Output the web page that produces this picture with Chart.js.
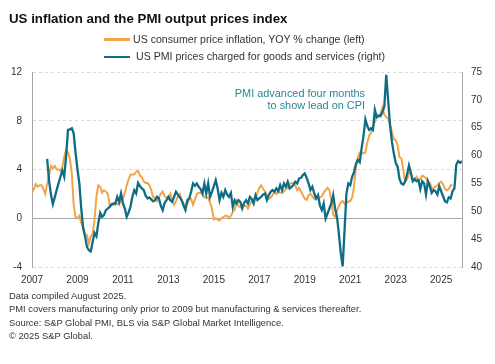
<!DOCTYPE html>
<html>
<head>
<meta charset="utf-8">
<script src="https://cdn.jsdelivr.net/npm/chart.js@4/dist/chart.umd.min.js"></script>
<style>
  html, body { margin:0; padding:0; background:#fff; }
  body { width:495px; height:364px; position:relative; overflow:hidden; font-family:"Liberation Sans", Arial, sans-serif; color:#262626; }
  #wrap { position:absolute; left:0; top:0; width:495px; height:364px; }
  .t { position:absolute; white-space:nowrap; }
  #title { left:9px; top:10.5px; font-size:13.3px; font-weight:bold; line-height:16px; color:#111; }
  .leg { font-size:10.6px; line-height:13px; color:#333; }
  .sw { position:absolute; width:26px; height:2.5px; }
  .foot { left:9px; font-size:9.4px; line-height:12px; color:#333; }
  .ann { font-size:10.9px; line-height:12px; color:#2a8597; text-align:right; }
</style>
</head>
<body>
<div id="wrap"><canvas id="c" width="495" height="364"></canvas></div>
<div class="t" id="title">US inflation and the PMI output prices index</div>
<div class="sw" style="left:104px; top:38px; background:#f2a448;"></div>
<div class="t leg" style="left:133px; top:32.5px;">US consumer price inflation, YOY % change (left)</div>
<div class="sw" style="left:104px; top:55.5px; background:#0e6d84;"></div>
<div class="t leg" style="left:136px; top:50px;">US PMI prices charged for goods and services (right)</div>
<div class="t ann" style="right:130px; top:86.5px;">PMI advanced four months<br>to show lead on CPI</div>
<div class="t foot" style="top:290px;">Data compiled August 2025.</div>
<div class="t foot" style="top:303.3px;">PMI covers manufacturing only prior to 2009 but manufacturing &amp; services thereafter.</div>
<div class="t foot" style="top:316.5px;">Source: S&amp;P Global PMI, BLS via S&amp;P Global Market Intelligence.</div>
<div class="t foot" style="top:329.5px;">© 2025 S&amp;P Global.</div>
<script>
// ---- data ----
const cpiStart = [2007, 1];   // first month of CPI series (year, month)
const pmiStart = [2007, 9];   // first month of PMI series, already advanced four months
const xTicks = [2007, 2009, 2011, 2013, 2015, 2017, 2019, 2021, 2023, 2025];
const leftTicks = [-4, 0, 4, 8, 12];
const rightTicks = [40, 45, 50, 55, 60, 65, 70, 75];

// US consumer price inflation, YOY % (left axis), Jan 2007 - Jul 2025
const cpiYoY = [
  2.1, 2.4, 2.8, 2.6, 2.7, 2.7, 2.4, 2.0, 2.8, 3.5, 4.3, 4.1,
  4.3, 4.0, 4.0, 3.9, 4.2, 5.0, 5.6, 5.4, 4.9, 3.7, 1.1, 0.1,
  0.0, 0.2, -0.4, -0.7, -1.3, -1.4, -2.1, -1.5, -1.3, -0.2, 1.8, 2.7,
  2.6, 2.1, 2.3, 2.2, 2.0, 1.1, 1.2, 1.1, 1.1, 1.2, 1.1, 1.5,
  1.6, 2.1, 2.7, 3.2, 3.6, 3.6, 3.6, 3.8, 3.9, 3.5, 3.4, 3.0,
  2.9, 2.9, 2.7, 2.3, 1.7, 1.7, 1.4, 1.7, 2.0, 2.2, 1.8, 1.7,
  1.6, 2.0, 1.5, 1.1, 1.4, 1.8, 2.0, 1.5, 1.2, 1.0, 1.2, 1.5,
  1.6, 1.1, 1.5, 2.0, 2.1, 2.1, 2.0, 1.7, 1.7, 1.7, 1.3, 0.8,
  -0.1, 0.0, -0.1, -0.2, 0.0, 0.1, 0.2, 0.2, 0.0, 0.2, 0.5, 0.7,
  1.4, 1.0, 0.9, 1.1, 1.0, 1.0, 0.8, 1.1, 1.5, 1.6, 1.7, 2.1,
  2.5, 2.7, 2.4, 2.2, 1.9, 1.6, 1.7, 1.9, 2.2, 2.0, 2.2, 2.1,
  2.1, 2.2, 2.4, 2.5, 2.8, 2.9, 2.9, 2.7, 2.3, 2.5, 2.2, 1.9,
  1.6, 1.5, 1.9, 2.0, 1.8, 1.6, 1.8, 1.7, 1.7, 1.8, 2.1, 2.3,
  2.5, 2.3, 1.5, 0.3, 0.1, 0.6, 1.0, 1.3, 1.4, 1.2, 1.2, 1.4,
  1.4, 1.7, 2.6, 4.2, 5.0, 5.4, 5.4, 5.3, 5.4, 6.2, 6.8, 7.0,
  7.5, 7.9, 8.5, 8.3, 8.6, 9.1, 8.5, 8.3, 8.2, 7.7, 7.1, 6.5,
  6.4, 6.0, 5.0, 4.9, 4.0, 3.0, 3.2, 3.7, 3.7, 3.2, 3.1, 3.4,
  3.1, 3.2, 3.5, 3.4, 3.3, 3.0, 2.9, 2.5, 2.4, 2.6, 2.7, 2.9,
  3.0, 2.8, 2.4, 2.3, 2.4, 2.7, 2.7
];

// US PMI prices charged index (right axis), advanced four months: Sep 2007 - Dec 2025
const pmiPrices = [
  59.4, 55.5, 53.0, 51.3,
  52.5, 53.8, 55.0, 56.2, 57.3, 56.2, 59.8, 64.6, 64.7, 64.9, 64.0, 60.5,
  57.5, 55.0, 50.5, 47.0, 45.5, 43.6, 43.0, 42.8, 44.5, 46.1, 45.5, 47.9,
  49.7, 49.0, 49.3, 50.2, 50.5, 50.8, 51.2, 51.4, 51.4, 52.6, 51.7, 53.2,
  51.4, 50.5, 49.0, 49.8, 50.8, 52.6, 53.8, 53.2, 55.1, 54.5, 54.1, 53.8,
  52.8, 52.3, 52.5, 52.1, 51.8, 52.0, 52.6, 52.3, 51.0, 50.2, 51.5, 52.0,
  52.6, 52.0, 51.7, 52.6, 53.5, 53.0, 52.5, 52.0, 51.0, 50.2, 52.0, 52.3,
  53.5, 55.0, 54.6, 55.0, 54.4, 54.0, 53.2, 55.0, 53.2, 55.0, 52.6, 53.5,
  54.5, 55.6, 54.1, 52.0, 53.3, 52.6, 53.8, 53.0, 52.6, 53.3, 50.8, 52.0,
  51.4, 52.0, 51.7, 50.5, 51.5, 52.0, 51.4, 52.6, 52.2, 51.4, 52.9, 52.0,
  52.3, 52.6, 53.0, 53.2, 52.0, 52.9, 53.5, 53.8, 53.5, 54.1, 53.6, 54.7,
  53.8, 55.0, 54.4, 55.3, 54.1, 54.4, 54.7, 55.3, 55.0, 55.9, 56.0, 56.5,
  56.8, 56.0, 55.0, 53.8, 54.4, 53.2, 52.3, 52.9, 51.0, 50.2, 51.4, 48.7,
  49.6, 50.5, 51.4, 52.9, 50.5, 49.0, 46.0, 42.5, 40.1, 46.6, 53.2, 55.0,
  54.7, 56.2, 57.0, 58.5, 59.2, 58.8, 61.3, 63.5, 66.5, 65.3, 64.6, 64.9,
  64.6, 68.2, 66.9, 67.2, 67.1, 67.8, 68.8, 74.5, 70.0, 65.5, 62.5, 60.4,
  58.7, 58.0, 55.8, 55.0, 54.8, 55.4, 56.6, 58.2, 56.9, 55.4, 55.8, 55.4,
  55.6, 54.0, 55.4, 55.0, 53.0, 55.4, 54.5, 53.3, 53.8, 53.6, 53.0, 54.5,
  53.6, 52.7, 51.8, 51.6, 52.5, 52.3, 53.6, 54.1, 58.4, 59.0, 58.7, 59.0
];

const seriesNames = [
  'US consumer price inflation, YOY % change (left)',
  'US PMI prices charged for goods and services (right)'
];

// ---- build points ----
function toPoints(values, start) {
  const base = start[0] + (start[1] - 1) / 12;
  return values.map((v, i) => ({ x: base + i / 12, y: v }));
}
const xMin = 2007;
const xMax = pmiStart[0] + (pmiStart[1] - 1) / 12 + (pmiPrices.length - 1) / 12;

const zeroLine = {
  id: 'zeroLine',
  beforeDatasetsDraw(chart) {
    const y = chart.scales.y.getPixelForValue(0);
    const { left, right } = chart.chartArea;
    const ctx = chart.ctx;
    ctx.save();
    ctx.strokeStyle = '#a6a6a6';
    ctx.lineWidth = 1;
    ctx.beginPath();
    ctx.moveTo(left, Math.round(y) + 0.5);
    ctx.lineTo(right, Math.round(y) + 0.5);
    ctx.stroke();
    ctx.restore();
  }
};

const tickFont = { family: '"Liberation Sans", Arial, sans-serif', size: 10 };

new Chart(document.getElementById('c'), {
  type: 'line',
  data: {
    datasets: [
      {
        label: seriesNames[0],
        data: toPoints(cpiYoY, cpiStart),
        yAxisID: 'y',
        borderColor: '#f2a448',
        borderWidth: 2,
        pointRadius: 0,
        tension: 0,
        order: 1
      },
      {
        label: seriesNames[1],
        data: toPoints(pmiPrices, pmiStart),
        yAxisID: 'y2',
        borderColor: '#0e6d84',
        borderWidth: 2.3,
        pointRadius: 0,
        tension: 0,
        order: 0
      }
    ]
  },
  options: {
    responsive: false,
    animation: false,
    devicePixelRatio: 1,
    layout: { padding: { top: 72, left: 0, right: 0, bottom: 77 } },
    plugins: { legend: { display: false }, tooltip: { enabled: false } },
    scales: {
      x: {
        type: 'linear',
        min: xMin,
        max: xMax,
        afterBuildTicks: s => { s.ticks = xTicks.map(v => ({ value: v })); },
        afterFit: s => { s.height = 20; },
        grid: { display: false, drawTicks: false },
        border: { display: false },
        ticks: { font: tickFont, color: '#333', padding: 7, maxRotation: 0, autoSkip: false, callback: v => String(v) }
      },
      y: {
        position: 'left',
        min: -4, max: 12,
        afterBuildTicks: s => { s.ticks = leftTicks.map(v => ({ value: v })); },
        afterFit: s => { s.width = 32; },
        grid: { color: c => (c.tick && c.tick.value === 0) ? 'rgba(0,0,0,0)' : '#d9d9d9', lineWidth: 1, drawTicks: false },
        border: { display: true, color: '#a6a6a6', width: 1, dash: [3, 3] },
        ticks: { font: tickFont, color: '#333', padding: 10 }
      },
      y2: {
        position: 'right',
        min: 40, max: 75,
        afterBuildTicks: s => { s.ticks = rightTicks.map(v => ({ value: v })); },
        afterFit: s => { s.width = 33; },
        grid: { display: false, drawTicks: false },
        border: { display: true, color: '#a6a6a6', width: 1 },
        ticks: { font: tickFont, color: '#333', padding: 9 }
      }
    }
  },
  plugins: [zeroLine]
});
</script>
</body>
</html>
